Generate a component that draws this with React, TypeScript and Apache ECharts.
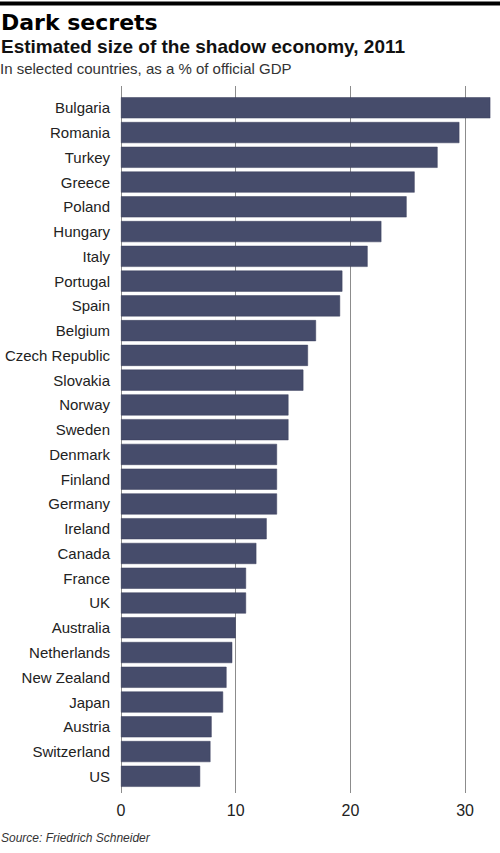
import React, { useEffect, useRef } from "react";
import * as echarts from "echarts";

const countries = [
  "Bulgaria", "Romania", "Turkey", "Greece", "Poland", "Hungary", "Italy",
  "Portugal", "Spain", "Belgium", "Czech Republic", "Slovakia", "Norway",
  "Sweden", "Denmark", "Finland", "Germany", "Ireland", "Canada", "France",
  "UK", "Australia", "Netherlands", "New Zealand", "Japan", "Austria",
  "Switzerland", "US",
];
const shadowShare = [
  32.2, 29.5, 27.6, 25.6, 24.9, 22.7, 21.5, 19.3, 19.1, 17.0, 16.3, 15.9,
  14.6, 14.6, 13.6, 13.6, 13.6, 12.7, 11.8, 10.9, 10.9, 10.0, 9.7, 9.2,
  8.9, 7.9, 7.8, 6.9,
];
const tickMax = 30;
const tickStep = 10;
const barAxisMax = 33;

const title = "Dark secrets";
const subtitle = "Estimated size of the shadow economy, 2011";
const note = "In selected countries, as a % of official GDP";
const source = "Source: Friedrich Schneider";

export default function App() {
  const ref = useRef<HTMLDivElement>(null);
  useEffect(() => {
    document.body.style.margin = "0";
    const chart = echarts.init(ref.current!, undefined, { renderer: "svg" });
    const sans = "Liberation Sans";
    chart.setOption({
      animation: false,
      backgroundColor: "#ffffff",
      grid: [
        { left: 121, right: 34.9, top: 86, bottom: 60, containLabel: false },
        { left: 121, right: 0.5, top: 95.4, bottom: 64.3, containLabel: false },
      ],
      xAxis: [
        {
          gridIndex: 0,
          type: "value",
          min: 0,
          max: tickMax,
          interval: tickStep,
          axisLine: { show: false },
          axisTick: { show: false },
          axisLabel: {
            margin: 9,
            color: "#222",
            fontSize: 16,
            fontFamily: sans,
          },
          splitLine: { show: true, lineStyle: { color: "#8c8c8c", width: 1 } },
        },
        {
          gridIndex: 1,
          type: "value",
          min: 0,
          max: barAxisMax,
          show: false,
          splitLine: { show: false },
        },
      ],
      yAxis: [
        { gridIndex: 0, type: "value", show: false, splitLine: { show: false } },
        {
          gridIndex: 1,
          type: "category",
          data: countries,
          inverse: true,
          axisLine: { show: false },
          axisTick: { show: false },
          axisLabel: {
            margin: 11,
            color: "#222",
            fontSize: 15,
            fontFamily: sans,
          },
        },
      ],
      series: [
        {
          type: "bar",
          xAxisIndex: 1,
          yAxisIndex: 1,
          data: shadowShare,
          barCategoryGap: "15%",
          itemStyle: {
            color: "#464c6b",
            borderColor: "#3a3f5c",
            borderWidth: 0.5,
          },
        },
      ],
      graphic: [
        { type: "rect", shape: { x: 0, y: 1.5, width: 500, height: 4 }, style: { fill: "#000" } },
        {
          type: "text",
          x: 1,
          y: 22.4,
          style: {
            text: title,
            fontFamily: "DejaVu Sans",
            fontWeight: "bold",
            fontSize: 22,
            fill: "#000",
            verticalAlign: "middle",
          },
        },
        {
          type: "text",
          x: 1,
          y: 46.9,
          style: {
            text: subtitle,
            fontFamily: sans,
            fontWeight: "bold",
            fontSize: 19,
            fill: "#111",
            verticalAlign: "middle",
          },
        },
        {
          type: "text",
          x: 0,
          y: 68.8,
          style: {
            text: note,
            fontFamily: sans,
            fontSize: 15,
            fill: "#333",
            verticalAlign: "middle",
          },
        },
        {
          type: "text",
          x: 1,
          y: 837.8,
          style: {
            text: source,
            fontFamily: sans,
            fontStyle: "italic",
            fontSize: 12,
            fill: "#333",
            verticalAlign: "middle",
          },
        },
      ],
    });
    return () => chart.dispose();
  }, []);
  return <div ref={ref} style={{ width: 500, height: 853 }} />;
}
